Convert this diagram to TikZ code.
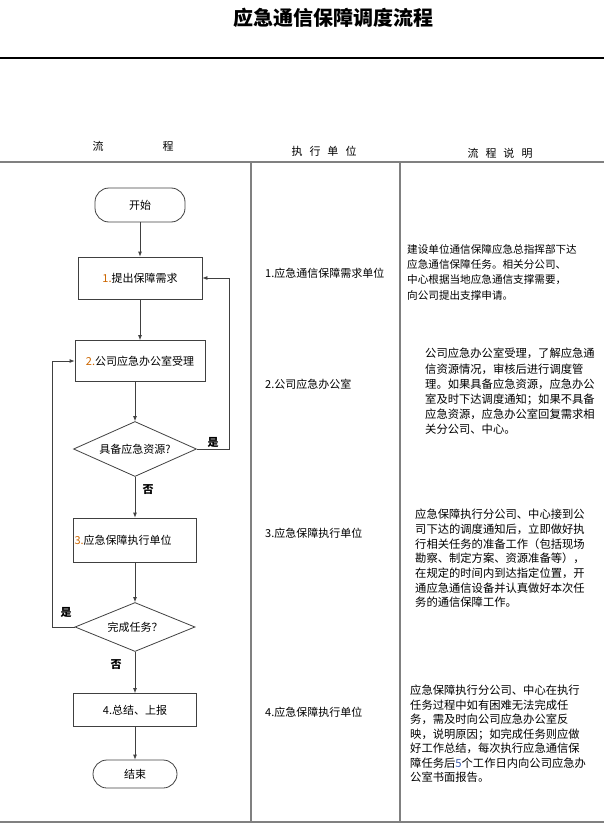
\documentclass[tikz,border=0pt]{standalone}
\usepackage{fontspec}
\setmainfont{Noto Sans CJK SC}
\usetikzlibrary{arrows.meta,shapes.geometric}
\definecolor{lineg}{RGB}{64,64,64}
\definecolor{gridg}{RGB}{128,128,128}
\definecolor{stepnum}{RGB}{204,102,0}
\definecolor{numblue}{RGB}{60,90,170}
\newcommand{\stepno}[1]{\textcolor{stepnum}{#1}}

\begin{document}
\begin{tikzpicture}[x=1pt,y=-1pt,
  flowline/.style={lineg,line width=0.8pt,-{Latex[length=5pt,width=4pt]}},
  procbox/.style={draw=lineg,line width=0.8pt,minimum width=123pt,inner sep=0pt,font=\fontsize{11}{13}\selectfont},
  termbox/.style={procbox,rounded corners=14pt},
  decbox/.style={draw=lineg,line width=0.8pt,diamond,aspect=2.3,inner sep=0pt,font=\fontsize{11}{13}\selectfont},
  yesno/.style={font=\bfseries\fontsize{11}{13}\selectfont},
  headtext/.style={font=\fontsize{11}{13}\selectfont},
  unittext/.style={anchor=west,inner sep=0pt,font=\fontsize{11}{13}\selectfont},
  notetext/.style={anchor=north west,align=left,inner sep=0pt,font=\fontsize{11.3}{15.2}\selectfont}]
\useasboundingbox (0,0) rectangle (604,824);

% title and table rules
\node[font=\bfseries\fontsize{20}{24}\selectfont] (title) at (333,18) {应急通信保障调度流程};
\draw[line width=1.5pt] (0,58) -- (604,58);
\node[headtext] (hflowa) at (98,146) {流};
\node[headtext] (hflowb) at (168,146) {程};
\node[headtext] (hunit) at (324,151) {执\hspace{7pt}行\hspace{7pt}单\hspace{7pt}位};
\node[headtext] (hnote) at (500,153) {流\hspace{7pt}程\hspace{7pt}说\hspace{7pt}明};
\draw[gridg,line width=1.5pt] (0,162) -- (604,162);
\draw[gridg,line width=1.5pt] (251,162) -- (251,822);
\draw[gridg,line width=1.5pt] (400,162) -- (400,822);
\draw[gridg,line width=2pt] (0,822) -- (604,822);

% flow chart
\node[termbox,minimum width=90pt,minimum height=34pt] (start) at (140,205) {开始};
\node[procbox,minimum width=124pt,minimum height=42pt] (req) at (140,278) {\stepno{1.}提出保障需求};
\node[procbox,minimum width=130pt,minimum height=41pt] (accept) at (140,361) {\stepno{2.}公司应急办公室受理};
\node[decbox,minimum width=123pt,minimum height=55pt] (hasres) at (135,449) {具备应急资源?};
\node[procbox,minimum height=44pt,text width=121pt,inner xsep=1pt,align=left] (exec) at (135,540) {\stepno{3.}应急保障执行单位};
\node[decbox,minimum width=120pt,minimum height=49pt] (done) at (135,627) {完成任务？};
\node[procbox,minimum height=33pt] (report) at (135,710) {4.总结、上报};
\node[termbox,minimum width=84pt,minimum height=28pt] (finish) at (135,774) {结束};

\node[yesno] (yesa) at (213,442) {是};
\node[yesno] (noa) at (148,490) {否};
\node[yesno] (yesb) at (66,612) {是};
\node[yesno] (nob) at (116,665) {否};

\draw[flowline] (start) -- (req);
\draw[flowline] (req) -- (accept);
\draw[flowline] (hasres.north |- accept.south) -- (hasres);
\draw[flowline] (hasres) -- (exec);
\draw[flowline] (exec) -- (done);
\draw[flowline] (done) -- (report);
\draw[flowline] (report) -- (finish);
\draw[flowline] (hasres.east) -- ++(32,0) |- (req.east);
\draw[flowline] (done.west) -- ++(-22,0) |- (accept.west);

% executing units
\node[unittext] (unita) at (265,273) {1.应急通信保障需求单位};
\node[unittext] (unitb) at (265,384) {2.公司应急办公室};
\node[unittext] (unitc) at (265,533) {3.应急保障执行单位};
\node[unittext] (unitd) at (265,712) {4.应急保障执行单位};

% notes
\node[notetext,font=\fontsize{10.6}{15.3}\selectfont] (notea) at (407,244) {建设单位通信保障应急总指挥部下达\\应急通信保障任务。相关分公司、\\中心根据当地应急通信支撑需要，\\向公司提出支撑申请。};
\node[notetext] (noteb) at (425,348) {公司应急办公室受理，了解应急通\\信资源情况，审核后进行调度管\\理。如果具备应急资源，应急办公\\室及时下达调度通知；如果不具备\\应急资源，应急办公室回复需求相\\关分公司、中心。};
\node[notetext,font=\fontsize{11.3}{14.7}\selectfont] (notec) at (415,509) {应急保障执行分公司、中心接到公\\司下达的调度通知后，立即做好执\\行相关任务的准备工作（包括现场\\勘察、制定方案、资源准备等），\\在规定的时间内到达指定位置，开\\通应急通信设备并认真做好本次任\\务的通信保障工作。};
\node[notetext,font=\fontsize{11.3}{14.5}\selectfont] (noted) at (410,685) {应急保障执行分公司、中心在执行\\任务过程中如有困难无法完成任\\务，需及时向公司应急办公室反\\映，说明原因；如完成任务则应做\\好工作总结，每次执行应急通信保\\障任务后\textcolor{numblue}{5}个工作日内向公司应急办\\公室书面报告。};
\end{tikzpicture}
\end{document}
